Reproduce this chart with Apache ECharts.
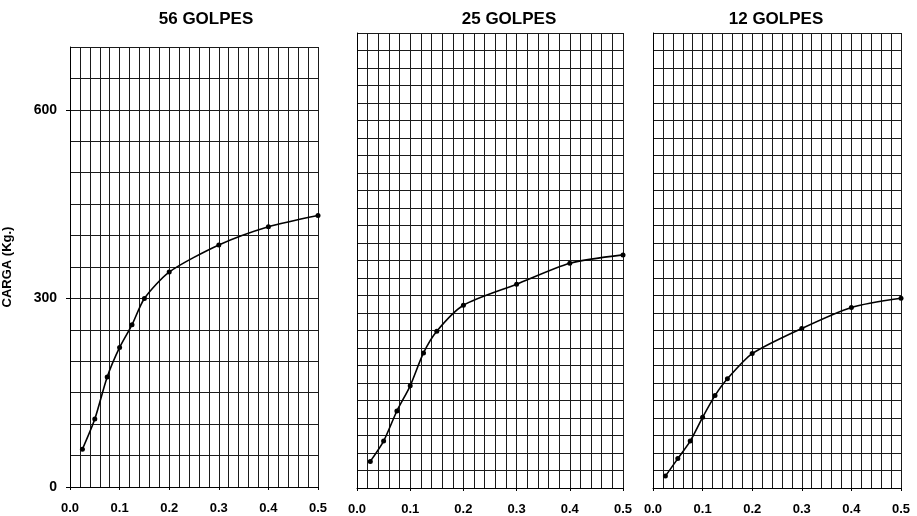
<!DOCTYPE html>
<html>
<head>
<meta charset="utf-8">
<script src="https://cdn.jsdelivr.net/npm/echarts@6/dist/echarts.min.js"></script>
<style>
html,body{margin:0;padding:0;background:#fff;}
#chart{width:917px;height:516px;}
</style>
</head>
<body>
<div id="chart"></div>
<script>
// ---- data ----
const penetration = [0.025, 0.05, 0.075, 0.1, 0.125, 0.15, 0.2, 0.3, 0.4, 0.5];
const load56 = [60, 108, 175, 222, 258, 300, 342, 385, 414, 432];
const load25 = [38, 67, 110, 146, 193, 224, 261, 291, 321, 333];
const load12 = [17, 42, 67, 101, 132, 156, 192, 228, 258, 271];
const panelTitles = ['56 GOLPES', '25 GOLPES', '12 GOLPES'];
const yTickValues = [0, 300, 600];
const yAxisName = 'CARGA (Kg.)';

// ---- layout ----
const FONT = '"Liberation Sans", Arial, sans-serif';
const grids = [
  {left: 70, top: 47, width: 248, height: 440},
  {left: 357, top: 33, width: 266, height: 456},
  {left: 653, top: 33, width: 248, height: 456}
];
const yRanges = [
  {max: 700, interval: 50},
  {max: 650, interval: 25},
  {max: 650, interval: 25}
];
const titleCenters = [206, 509, 776];
const gridColor = '#1a1a1a';

const seriesData = [load56, load25, load12];

// tick/label helper grid for panel 1 (0..600 range only)
const g0 = grids[0];
const tickGridTop = g0.top + g0.height * (1 - yTickValues[yTickValues.length-1] / yRanges[0].max);
const tickGrid = {left: g0.left, top: tickGridTop, width: g0.width, height: g0.top + g0.height - tickGridTop};

const xAxes = grids.map((g, i) => ({
  type: 'value', gridIndex: i, min: 0, max: 0.5, interval: 0.1,
  axisLine: {show: true, onZero: false, lineStyle: {color: '#000', width: 1}},
  axisTick: {show: true, length: 3, lineStyle: {color: '#000'}},
  axisLabel: {
    color: '#000', fontFamily: FONT, fontWeight: 'bold', fontSize: 13, margin: 15,
    formatter: v => v.toFixed(1)
  },
  splitLine: {show: true, lineStyle: {color: gridColor, width: 1}},
  minorTick: {show: false, splitNumber: 5},
  minorSplitLine: {show: true, lineStyle: {color: gridColor, width: 1}}
}));
xAxes.push({type: 'value', gridIndex: 3, min: 0, max: 1, show: false});

const yAxes = grids.map((g, i) => ({
  type: 'value', gridIndex: i, min: 0, max: yRanges[i].max, interval: yRanges[i].interval,
  axisLine: {show: true, onZero: false, lineStyle: {color: '#000', width: 1}},
  axisTick: {show: false},
  axisLabel: {show: false},
  splitLine: {show: true, lineStyle: {color: gridColor, width: 1}},
  name: i === 0 ? yAxisName : '',
  nameLocation: 'middle',
  nameGap: 56,
  nameTextStyle: {color: '#000', fontFamily: FONT, fontWeight: 'bold', fontSize: 13}
}));
yAxes.push({
  type: 'value', gridIndex: 3, min: 0, max: yTickValues[yTickValues.length-1],
  interval: yTickValues[1] - yTickValues[0],
  axisLine: {show: false},
  axisTick: {show: true, length: 4, lineStyle: {color: '#000'}},
  axisLabel: {color: '#000', fontFamily: FONT, fontWeight: 'bold', fontSize: 14, margin: 13},
  splitLine: {show: false}
});

const series = seriesData.map((arr, i) => ({
  type: 'line', xAxisIndex: i, yAxisIndex: i,
  data: penetration.map((p, k) => [p, arr[k]]),
  smooth: 0.25,
  clip: false,
  symbol: 'circle', symbolSize: 5,
  lineStyle: {color: '#000', width: 1.6},
  itemStyle: {color: '#000'},
  z: 5
}));

const option = {
  animation: false,
  backgroundColor: '#fff',
  grid: grids.concat([tickGrid]).map(g => Object.assign({containLabel: false}, g)),
  xAxis: xAxes,
  yAxis: yAxes,
  series: series,
  graphic: panelTitles.map((t, i) => ({
    type: 'text', x: titleCenters[i], y: 19,
    style: {text: t, textAlign: 'center', textVerticalAlign: 'middle',
            font: 'bold 17px ' + FONT, fill: '#000'}
  }))
};

const chart = echarts.init(document.getElementById('chart'), null, {renderer: 'canvas'});
chart.setOption(option);
</script>
</body>
</html>
